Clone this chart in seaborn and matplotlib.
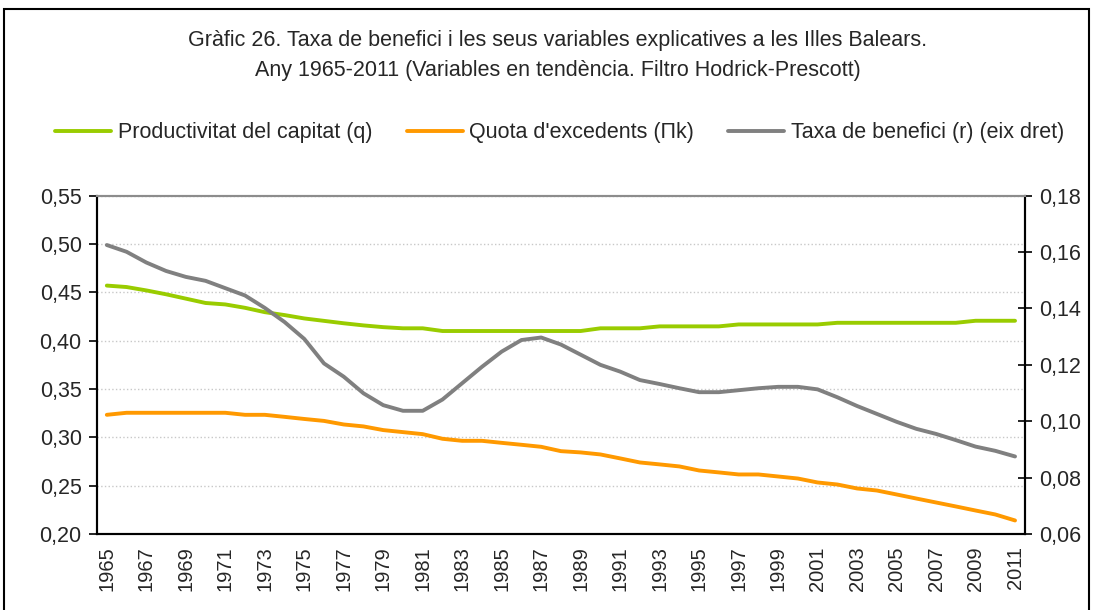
import matplotlib
matplotlib.use("Agg")
import matplotlib.pyplot as plt
from matplotlib.patches import Rectangle
from matplotlib.ticker import FuncFormatter, FixedLocator
import seaborn as sns
import numpy as np
import pandas as pd

# Data (HP trend series)
years = list(range(1965, 2012))
productivitat = [0.457, 0.4555, 0.452, 0.448, 0.4435, 0.439, 0.4375, 0.434, 0.4295, 0.4265,
                 0.423, 0.4205, 0.418, 0.4158, 0.414, 0.4128, 0.4128, 0.410, 0.410, 0.410,
                 0.410, 0.410, 0.410, 0.410, 0.410, 0.4128, 0.4128, 0.4128, 0.4148, 0.4148,
                 0.4148, 0.4148, 0.4168, 0.4168, 0.4168, 0.4168, 0.4168, 0.4185, 0.4185, 0.4185,
                 0.4185, 0.4185, 0.4185, 0.4185, 0.4206, 0.4206, 0.4206]
quota = [0.3233, 0.3254, 0.3254, 0.3254, 0.3254, 0.3254, 0.3254, 0.3233, 0.3233, 0.3212,
         0.319, 0.317, 0.3133, 0.3113, 0.3075, 0.3054, 0.3033, 0.2985, 0.2964, 0.2964,
         0.2943, 0.2923, 0.2902, 0.2857, 0.2844, 0.2823, 0.2782, 0.274, 0.272, 0.2699,
         0.2657, 0.2637, 0.2616, 0.2616, 0.2595, 0.2574, 0.2533, 0.2512, 0.2471, 0.245,
         0.2409, 0.2367, 0.2326, 0.2285, 0.2243, 0.2202, 0.214]
taxa = [0.1625, 0.1601, 0.1563, 0.1533, 0.1512, 0.1498, 0.1472, 0.1446, 0.1402, 0.1352,
        0.1292, 0.1205, 0.1158, 0.1099, 0.1057, 0.1037, 0.1037, 0.1077, 0.1135, 0.1193,
        0.1247, 0.1288, 0.1297, 0.1272, 0.1236, 0.1200, 0.1176, 0.1146, 0.1132, 0.1117,
        0.1103, 0.1103, 0.1110, 0.1117, 0.1122, 0.1122, 0.1113, 0.1085, 0.1054, 0.1026,
        0.0998, 0.0973, 0.0955, 0.0933, 0.0910, 0.0895, 0.0875]

labels = ["Productivitat del capitat (q)", "Quota d'excedents (\u03a0k)", "Taxa de benefici (r) (eix dret)"]
colors = ["#99CC00", "#FF9900", "#808080"]

df = pd.DataFrame({"pos": np.arange(len(years)), "q": productivitat, "pk": quota, "r": taxa})

sns.set_style("white")
plt.rcParams["font.family"] = ["Liberation Sans", "DejaVu Sans"]

fig = plt.figure(figsize=(10.93, 6.10), dpi=100)
ax = fig.add_axes([0.0887, 0.1246, 0.849, 0.5546])
ax2 = ax.twinx()

sns.lineplot(data=df, x="pos", y="q", ax=ax, color=colors[0], lw=2.8, label=labels[0], legend=False)
sns.lineplot(data=df, x="pos", y="pk", ax=ax, color=colors[1], lw=2.8, label=labels[1], legend=False)
sns.lineplot(data=df, x="pos", y="r", ax=ax2, color=colors[2], lw=2.8, label=labels[2], legend=False)

comma = FuncFormatter(lambda v, p: f"{v:.2f}".replace(".", ","))

ax.set_xlim(-0.5, len(years) - 0.5)
ax.set_ylim(0.20, 0.55)
ax.set_yticks(np.arange(0.20, 0.551, 0.05))
ax.yaxis.set_major_formatter(comma)
ax2.set_ylim(0.06, 0.18)
ax2.set_yticks(np.arange(0.06, 0.181, 0.02))
ax2.yaxis.set_major_formatter(comma)

ax.set_xticks(np.arange(0, len(years), 2))
ax.set_xticklabels([str(y) for y in years[::2]], rotation=90)
ax.xaxis.set_minor_locator(FixedLocator(np.arange(-0.5, len(years), 1)))
ax.tick_params(axis="x", which="major", length=0, pad=9, labelsize=14.5)
ax.tick_params(axis="x", which="minor", length=6, width=1.2, color="black", direction="out")
ax.tick_params(axis="y", length=6, width=1.2, color="black", direction="out", labelsize=15.5, pad=5)
ax2.tick_params(axis="y", length=10, width=1.2, color="black", direction="inout", labelsize=15.5, pad=5)

ax.set_xlabel("")
ax.set_ylabel("")
ax2.set_ylabel("")

ax.grid(axis="y", color="#c8c8c8", ls=":", lw=1)
ax.set_axisbelow(True)
for a in (ax, ax2):
    for side in ("left", "right", "bottom"):
        a.spines[side].set_color("black")
        a.spines[side].set_linewidth(1.5)
    a.spines["top"].set_color("#8c8c8c")
    a.spines["top"].set_linewidth(1.5)

fig.text(0.51, 0.934, "Gràfic 26. Taxa de benefici i les seus variables explicatives a les Illes Balears.",
         ha="center", va="center", fontsize=15.5)
fig.text(0.51, 0.884, "Any 1965-2011 (Variables en tendència. Filtro Hodrick-Prescott)",
         ha="center", va="center", fontsize=15.5)

handles = ax.get_lines()[:2] + ax2.get_lines()[:1]
fig.legend(handles, labels, loc="center", bbox_to_anchor=(0.512, 0.782), ncol=3, frameon=False,
           fontsize=15.5, handlelength=2.6, columnspacing=1.6, handletextpad=0.3)

fig.patches.append(Rectangle((0.004, -0.01), 0.992, 0.995, transform=fig.transFigure,
                             fill=False, edgecolor="black", lw=1.5))

fig.savefig("out.png", dpi=100)
